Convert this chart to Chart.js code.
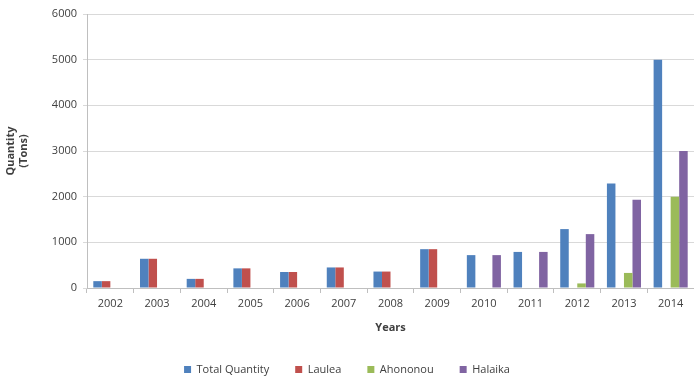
<!DOCTYPE html>
<html>
<head>
<meta charset="utf-8">
<script src="https://cdn.jsdelivr.net/npm/chart.js@4/dist/chart.umd.min.js"></script>
<style>
  html, body { margin: 0; padding: 0; background: #fff; }
  #wrap { width: 694px; height: 378px; position: relative; }
</style>
</head>
<body>
<div id="wrap"><canvas id="grafico"></canvas></div>
<script>
// Datos
const years = ['2002','2003','2004','2005','2006','2007','2008','2009','2010','2011','2012','2013','2014'];
const totalQuantity = [150, 640, 200, 430, 350, 450, 360, 850, 720, 790, 1290, 2290, 5000];
const laulea = [150, 640, 200, 430, 350, 450, 360, 850, 0, 0, 0, 0, 0];
const ahononou = [0, 0, 0, 0, 0, 0, 0, 0, 0, 0, 100, 330, 2000];
const halaika = [0, 0, 0, 0, 0, 0, 0, 0, 720, 790, 1180, 1930, 3000];

const fuente = 'Open Sans, Liberation Sans, sans-serif';
Chart.defaults.font.family = fuente;
Chart.defaults.font.size = 11;
Chart.defaults.color = '#404040';

const ctx = document.getElementById('grafico').getContext('2d');
new Chart(ctx, {
  type: 'bar',
  data: {
    labels: years,
    datasets: [
      { label: 'Total Quantity', data: totalQuantity, backgroundColor: '#4F81BD' },
      { label: 'Laulea', data: laulea, backgroundColor: '#C0504D' },
      { label: 'Ahononou', data: ahononou, backgroundColor: '#9BBB59' },
      { label: 'Halaika', data: halaika, backgroundColor: '#8064A2' }
    ]
  },
  options: {
    responsive: true,
    maintainAspectRatio: false,
    animation: false,
    datasets: {
      bar: { barPercentage: 1, categoryPercentage: 0.73 }
    },
    layout: { padding: { top: 14, right: 0, left: 0, bottom: -7 } },
    plugins: {
      legend: {
        position: 'bottom',
        labels: { boxWidth: 7, boxHeight: 7, padding: 26, font: { size: 11 } }
      },
      tooltip: { enabled: false }
    },
    scales: {
      x: {
        grid: { display: true, drawOnChartArea: false, offset: true, tickLength: 5, color: '#bfbfbf' },
        border: { color: '#bfbfbf' },
        ticks: { padding: 4, maxRotation: 0 },
        title: { display: true, text: 'Years', font: { weight: 'bold', size: 11 }, padding: { top: 2 } },
        afterFit: function(scale) { scale.height = 50; }
      },
      y: {
        min: 0,
        max: 6000,
        ticks: { stepSize: 1000, padding: 6, callback: v => String(v) },
        grid: { color: '#d9d9d9', tickLength: 4 },
        border: { color: '#bfbfbf' },
        title: { display: true, text: ['Quantity', '(Tons)'], font: { weight: 'bold', size: 11 } },
        afterFit: function(scale) { scale.width = 87; }
      }
    }
  }
});
</script>
</body>
</html>
